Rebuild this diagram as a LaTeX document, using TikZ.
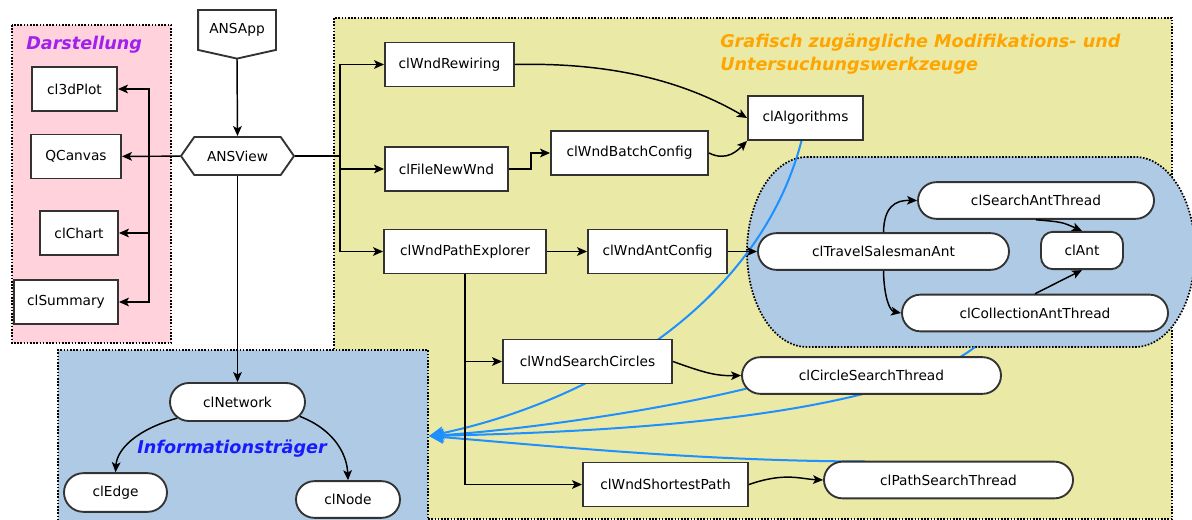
\documentclass[tikz,border=0pt]{standalone}
\usepackage{fontspec}
\newfontfamily\ansfont{DejaVu Sans}
\newcommand{\ansclass}{\ansfont\fontsize{10.3}{12}\selectfont}
\newcommand{\ansgroup}{\ansfont\fontsize{13.2}{17.3}\selectfont\bfseries\itshape}
\usetikzlibrary{arrows.meta,shapes.misc,shapes.symbols,backgrounds}
\definecolor{ansink}{HTML}{333333}
\definecolor{ansrose}{HTML}{FFD2DC}
\definecolor{anskhaki}{HTML}{EBE9A6}
\definecolor{anssteel}{HTML}{AFCAE4}
\definecolor{ansuse}{HTML}{1E90FF}
\definecolor{ansorange}{HTML}{FFA500}
\definecolor{anspurple}{HTML}{A020F0}
\definecolor{ansblue}{HTML}{1A1AFF}
\tikzset{
  classbox/.style={draw=ansink,rectangle,fill=white,line width=1.4pt,
    minimum height=33pt,inner sep=0pt,font=\ansclass},
  threadbox/.style={draw=ansink,rounded rectangle,fill=white,line width=1.4pt,
    minimum height=27.5pt,inner sep=0pt,font=\ansclass},
  databox/.style={draw=ansink,rectangle,rounded corners=9pt,fill=white,line width=1.4pt,
    minimum height=28pt,inner sep=0pt,font=\ansclass},
  grouparea/.style={draw=black,line width=1.3pt,dash pattern=on 1.2pt off 1.2pt},
  classlink/.style={draw=black,line width=1.1pt,-{Stealth[length=7.5pt,width=6.5pt,inset=1.8pt]}},
  uselink/.style={draw=ansuse,line width=1.5pt,-{Stealth[length=11pt,width=10pt,inset=2.5pt]}},
}
\begin{document}
\begin{tikzpicture}[x=0.75pt,y=-0.75pt]
  \useasboundingbox (0,0) rectangle (1192,520);
  % main window classes
  \node[classbox,draw=none,fill=none,minimum width=57pt,minimum height=28.5pt] (app) at (237,30) {ANSApp};
  \draw[ansink,line width=1.4pt,fill=white] (app.north west) -- (app.north east) -- (app.south east)
    -- ([yshift=-6.5pt]app.south) -- (app.south west) -- cycle;
  \node[font=\ansclass] at (app) {ANSApp};
  \coordinate (apptip) at ([yshift=-6.5pt]app.south);
  \node[classbox,signal,signal to=west and east,signal pointer angle=110,
    minimum width=84.75pt,minimum height=28.5pt] (view) at (237.5,156) {ANSView};
  \foreach \n/\x/\y/\w/\t in {plot/74.5/89/85/cl3dPlot,canvas/76/156.5/90/QCanvas,
      chart/79/233/78/clChart,summary/66/302/104/clSummary,
      rew/449.5/64.5/129/clWndRewiring,fnew/446.5/169/123/clFileNewWnd,
      batch/629.5/153/157/clWndBatchConfig,alg/805.5/118/115/clAlgorithms,
      pexp/465/251.5/162/clWndPathExplorer,antcfg/657.5/251.5/139/clWndAntConfig,
      circ/587.5/361.5/169/clWndSearchCircles,spath/665.5/484.5/165/clWndShortestPath}
    {\node[classbox,minimum width=\w*0.75pt] (\n) at (\x,\y) {\t};}
  % threads
  \foreach \n/\x/\y/\w/\t in {tsa/883.5/251.5/251/clTravelSalesmanAnt,
      sat/1036/200.5/236/clSearchAntThread,cat/1035/313/266/clCollectionAntThread,
      cst/871.5/375.5/259/clCircleSearchThread,pst/948.5/480/249/clPathSearchThread}
    {\node[threadbox,minimum width=\w*0.75pt] (\n) at (\x,\y) {\t};}
  % data classes
  \node[threadbox,minimum width=101.25pt,minimum height=28.5pt] (net) at (237.5,402) {clNetwork};
  \node[threadbox,minimum width=77.25pt,minimum height=29pt] (edge) at (115.5,492.5) {clEdge};
  \node[threadbox,minimum width=78pt] (node) at (348,499.5) {clNode};
  \node[databox,minimum width=61.5pt] (ant) at (1082,250.5) {clAnt};
  % group titles
  \node[font=\ansgroup,text=anspurple,anchor=west,inner sep=0pt] (tdar) at (26,45) {Darstellung};
  \node[font=\ansgroup,text=ansorange,anchor=west,align=left,inner sep=0pt] (ttool) at (720,54)
    {Grafisch zugängliche Modifikations- und\\Untersuchungswerkzeuge};
  \node[font=\ansgroup,text=ansblue,inner sep=0pt] (tinfo) at (232,449) {Informationsträger};
  % forks
  \coordinate (lfork) at (149,156);
  \coordinate (rfork) at (340,156);
  \coordinate (antcl) at (975,347);
  \coordinate (info) at (429,436);
  \draw[classlink] (apptip) -- (view.north);
  \draw[classlink] (view) -- (canvas);
  \foreach \n in {plot,chart,summary}
    {\draw[classlink] (lfork) |- (\n);}
  \draw[line width=1.1pt] (view.east) -- (rfork);
  \foreach \n in {rew,fnew,pexp}
    {\draw[classlink] (rfork) |- (\n);}
  \draw[classlink] (view.south) -- (net.north);
  \draw[classlink] (fnew.east) -- ++(22,0) |- (batch.west);
  \draw[classlink] (rew.east) .. controls (620,62) and (690,85) .. (alg.west);
  \draw[classlink] (batch.east) .. controls (727,162) and (738,150) .. (alg.south west);
  \draw[classlink] (pexp) -- (antcfg);
  \draw[classlink] (antcfg) -- (tsa);
  \draw[classlink] (pexp.south) |- (circ.west);
  \draw[classlink] (pexp.south) |- (spath.west);
  \draw[classlink] (circ.east) .. controls (705,373) and (716,376) .. (cst.west);
  \draw[classlink] (spath.east) .. controls (785,472) and (800,479) .. (pst.west);
  \draw[classlink] (tsa.north) .. controls (884,207) and (895,200) .. (sat.west);
  \draw[classlink] (tsa.south) .. controls (884,298) and (890,311) .. (cat.west);
  \draw[classlink] (sat.south) .. controls (1062,222) .. (ant.north);
  \draw[classlink] (cat.north) -- (ant.south);
  \draw[classlink] (net.195) .. controls (135,430) and (117,450) .. (edge.north);
  \draw[classlink] (net.-13) .. controls (335,430) and (347,455) .. (node.north);
  \begin{scope}[on background layer]
    \fill[ansrose] (12,25) rectangle (171,343);
    \draw[grouparea] (12,25) rectangle (171,343);
    \fill[anskhaki] (334,18) rectangle (1172,519);
    \draw[grouparea] (334,18) rectangle (1172,519);
    \draw[grouparea,fill=anssteel] (58,530) -- (58,350) -- (428,350) -- (428,530);
    \draw[grouparea,fill=anssteel] (807,157) -- (1135,157)
      arc[start angle=90,end angle=-90,x radius=45pt,y radius=71.25pt]
      -- (807,347) arc[start angle=270,end angle=90,x radius=45pt,y radius=71.25pt] -- cycle;
    \draw[uselink] (alg.-100) .. controls (760,300) and (600,400) .. (info);
    \draw[uselink] (antcl) .. controls (880,420) and (600,432) .. (info);
    \draw[uselink] (cst.186) .. controls (650,412) and (520,430) .. (info);
    \draw[uselink] (865,461.5) .. controls (700,461) and (550,446) .. (info);
  \end{scope}
\end{tikzpicture}
\end{document}
